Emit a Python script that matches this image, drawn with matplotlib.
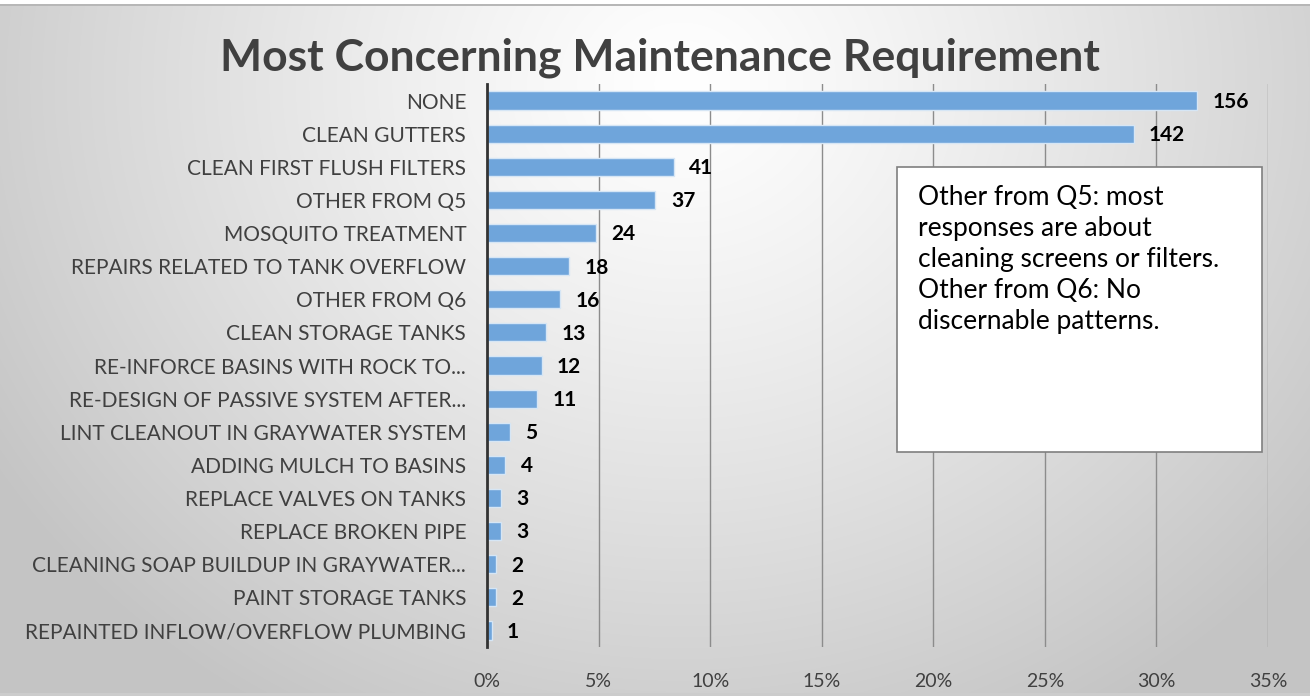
import numpy as np
import matplotlib
matplotlib.use("Agg")
import matplotlib.pyplot as plt
from matplotlib.ticker import PercentFormatter
from matplotlib.patches import Rectangle

categories = [
    "NONE", "CLEAN GUTTERS", "CLEAN FIRST FLUSH FILTERS", "OTHER FROM Q5",
    "MOSQUITO TREATMENT", "REPAIRS RELATED TO TANK OVERFLOW", "OTHER FROM Q6",
    "CLEAN STORAGE TANKS", "RE-INFORCE BASINS WITH ROCK TO...",
    "RE-DESIGN OF PASSIVE SYSTEM AFTER...", "LINT CLEANOUT IN GRAYWATER SYSTEM",
    "ADDING MULCH TO BASINS", "REPLACE VALVES ON TANKS", "REPLACE BROKEN PIPE",
    "CLEANING SOAP BUILDUP IN GRAYWATER...", "PAINT STORAGE TANKS",
    "REPAINTED INFLOW/OVERFLOW PLUMBING",
]
counts = [156, 142, 41, 37, 24, 18, 16, 13, 12, 11, 5, 4, 3, 3, 2, 2, 1]
xticks = [0, 5, 10, 15, 20, 25, 30, 35]
title = "Most Concerning Maintenance Requirement"
note = ("Other from Q5: most\nresponses are about\ncleaning screens or filters.\n"
        "Other from Q6: No\ndiscernable patterns.")

total = sum(counts)
pcts = [100.0 * c / total for c in counts]

W, H = 1310, 696
fig = plt.figure(figsize=(W / 100, H / 100), dpi=100)
fig.patch.set_facecolor("white")

# background gradient
bg = fig.add_axes([0, 0, 1, 1], zorder=0)
yy, xx = np.mgrid[0:H, 0:W]
cx, cy = 0.52 * W, 0.12 * H
d = np.sqrt(((xx - cx) / (0.62 * W)) ** 2 + ((yy - cy) / (1.05 * H)) ** 2)
d = np.clip(d, 0, 1)
val = 1.0 - 0.23 * d ** 1.2
img = np.dstack([val, val, val])
img[:4, :, :] = 1.0
img[4:6, :, :] = 0.72
img[-3:, :, :] = 0.80
bg.imshow(img, aspect="auto", extent=[0, W, H, 0], interpolation="bilinear")
bg.set_xlim(0, W)
bg.set_ylim(H, 0)
bg.axis("off")

font = "Lato"
left, right = 487, 1268
top, bottom = 84, 647
ax = fig.add_axes([left / W, 1 - bottom / H, (right - left) / W, (bottom - top) / H], zorder=1)
ax.patch.set_alpha(0)

y = np.arange(len(categories))
ax.barh(y, pcts, height=0.55, color="#6FA5DB", edgecolor="#d6e6f5", linewidth=1.0, zorder=3)
for yi, p, c in zip(y, pcts, counts):
    ax.annotate(str(c), (p, yi), xytext=(11, -1), textcoords="offset points",
                va="center", ha="left", fontsize=15, fontweight="bold",
                color="black", family=font)

ax.set_ylim(len(categories) - 0.5, -0.5)
ax.set_xlim(0, 35)
ax.set_xticks(xticks)
ax.xaxis.set_major_formatter(PercentFormatter(decimals=0))
ax.set_yticks(y)
ax.set_yticklabels(categories, family=font, fontsize=15, color="#404040")
for lab in ax.get_xticklabels():
    lab.set_family(font)
    lab.set_fontsize(14)
    lab.set_color("#404040")
ax.tick_params(axis="both", length=0)
ax.tick_params(axis="y", pad=15)
ax.tick_params(axis="x", pad=19)
ax.grid(axis="x", color="#8c8c8c", linewidth=1.0, zorder=0)
ax.set_axisbelow(True)
for s in ["top", "right", "bottom"]:
    ax.spines[s].set_visible(False)
ax.spines["left"].set_color("#333333")
ax.spines["left"].set_linewidth(2)
ax.spines["left"].set_zorder(4)

fig.text(660 / W, 1 - 58 / H, title, ha="center", va="center", fontsize=32,
         fontweight="bold", color="#404040", family=font)

# note box
bx0, by0, bx1, by1 = 897, 167, 1262, 452
box = Rectangle((bx0 / W, 1 - by1 / H), (bx1 - bx0) / W, (by1 - by0) / H,
                transform=fig.transFigure, facecolor="white", edgecolor="#7f7f7f",
                linewidth=1.2, zorder=5)
fig.add_artist(box)
fig.text(918 / W, 1 - 185 / H, note, ha="left", va="top", fontsize=19,
         color="black", family=font, linespacing=1.3, zorder=6)

fig.savefig("out.png", dpi=100, facecolor=fig.get_facecolor())
